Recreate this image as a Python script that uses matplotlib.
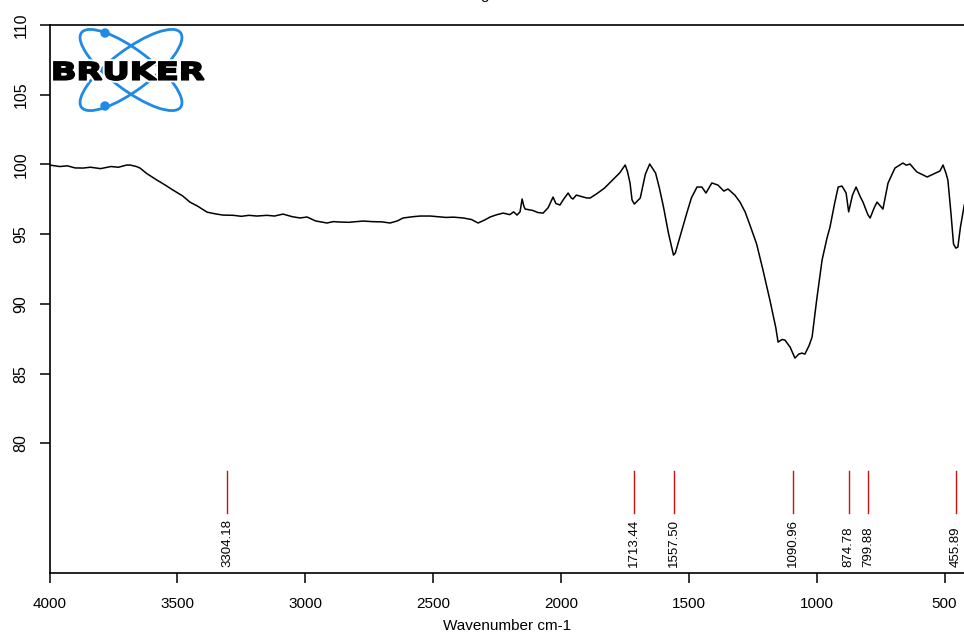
import matplotlib
matplotlib.use("Agg")
import matplotlib.pyplot as plt
from matplotlib.patches import Ellipse, Circle, PathPatch
from matplotlib.textpath import TextPath
from matplotlib.font_manager import FontProperties
from matplotlib.transforms import Affine2D
import matplotlib.patheffects as pe

# IR transmittance spectrum, wavenumber (cm-1) vs %T
wavenumber = [4000, 3960, 3930, 3900, 3869, 3840, 3800, 3760, 3730, 3700, 3685, 3660, 3646,
              3620, 3580, 3550, 3517, 3480, 3451, 3420, 3384, 3350, 3322, 3280, 3250, 3220,
              3189, 3150, 3120, 3087, 3050, 3020, 2993, 2960, 2930, 2915, 2890, 2864, 2830,
              2800, 2774, 2740, 2700, 2668, 2640, 2617, 2580, 2550, 2511, 2480, 2450, 2420,
              2382, 2350, 2324, 2300, 2277, 2250, 2226, 2200, 2185, 2172, 2160, 2152, 2145,
              2140, 2110, 2090, 2070, 2050, 2040, 2031, 2020, 2004, 1990, 1972, 1960, 1953,
              1940, 1920, 1900, 1886, 1860, 1830, 1800, 1770, 1749, 1740, 1730, 1722, 1713,
              1690, 1670, 1653, 1630, 1615, 1599, 1580, 1560, 1553, 1530, 1508, 1490, 1468,
              1449, 1433, 1410, 1386, 1363, 1347, 1320, 1300, 1280, 1262, 1235, 1211, 1183,
              1160, 1151, 1135, 1124, 1104, 1085, 1070, 1058, 1046, 1030, 1018, 1000, 979,
              960, 948, 930, 916, 901, 885, 875, 860, 846, 830, 819, 800, 791, 775, 764, 750,
              741, 721, 705, 694, 680, 663, 650, 635, 620, 608, 590, 568, 545, 518, 506, 495,
              487, 475, 465, 456, 448, 438, 423]
transmittance = [99.96, 99.85, 99.90, 99.75, 99.74, 99.80, 99.70, 99.85, 99.80, 99.95, 99.96,
                 99.85, 99.74, 99.35, 98.88, 98.55, 98.16, 97.75, 97.30, 97.00, 96.58, 96.45,
                 96.37, 96.35, 96.28, 96.35, 96.30, 96.35, 96.30, 96.44, 96.25, 96.16, 96.23,
                 95.95, 95.85, 95.80, 95.90, 95.87, 95.85, 95.90, 95.94, 95.90, 95.88, 95.80,
                 95.95, 96.16, 96.25, 96.30, 96.30, 96.25, 96.20, 96.22, 96.16, 96.05, 95.80,
                 96.00, 96.23, 96.40, 96.51, 96.40, 96.60, 96.37, 96.60, 97.52, 97.00, 96.80,
                 96.70, 96.55, 96.51, 96.90, 97.30, 97.66, 97.20, 97.09, 97.50, 97.95, 97.60,
                 97.52, 97.80, 97.70, 97.60, 97.59, 97.90, 98.30, 98.85, 99.40, 99.96, 99.50,
                 98.67, 97.45, 97.16, 97.59, 99.30, 100.03, 99.38, 98.30, 96.94, 95.10, 93.50,
                 93.64, 95.10, 96.51, 97.60, 98.38, 98.38, 97.95, 98.67, 98.52, 98.09, 98.24,
                 97.80, 97.30, 96.60, 95.70, 94.30, 92.50, 90.27, 88.30, 87.26, 87.45, 87.40,
                 86.90, 86.11, 86.40, 86.47, 86.40, 87.00, 87.62, 90.30, 93.14, 94.70, 95.51,
                 97.20, 98.38, 98.45, 97.95, 96.60, 97.80, 98.38, 97.70, 97.30, 96.40, 96.16,
                 96.90, 97.30, 97.00, 96.80, 98.67, 99.30, 99.74, 99.90, 100.10, 99.95, 100.03,
                 99.70, 99.46, 99.30, 99.10, 99.30, 99.53, 99.96, 99.40, 98.88, 96.50, 94.30,
                 94.00, 94.07, 95.50, 97.09]

peaks = [3304.18, 1713.44, 1557.50, 1090.96, 874.78, 799.88, 455.89]
xticks = [4000, 3500, 3000, 2500, 2000, 1500, 1000, 500]
yticks = [80, 85, 90, 95, 100, 105, 110]

plain = ["Liberation Sans", "DejaVu Sans"]

fig = plt.figure(figsize=(9.64, 6.4), dpi=100)
ax = fig.add_axes([49.5 / 964, 1 - 573 / 640, 1 - 49.5 / 964, (573 - 25) / 640])

ax.plot(wavenumber, transmittance, color="black", lw=1.1)

# peak markers
for p in peaks:
    ax.plot([p, p], [75.0, 78.0], color="#cc1111", lw=1)
    ax.text(p, 71.15, "%.2f" % p, rotation=90, ha="center", va="bottom",
            fontsize=9.5, family=plain)

ax.set_xlim(4000, 424)
ax.set_ylim(70.7, 110)
ax.spines["right"].set_visible(False)
for s in ["top", "left", "bottom"]:
    ax.spines[s].set_linewidth(1.2)

ax.set_xticks(xticks)
ax.set_xticklabels([str(v) for v in xticks], family=plain, fontsize=11)
ax.set_yticks(yticks)
ax.set_yticklabels([str(v) for v in yticks], family=plain, fontsize=11.5,
                   rotation=90, va="center")
ax.tick_params(direction="out", length=7, width=1.1)
ax.tick_params(axis="x", pad=10)
ax.tick_params(axis="y", pad=8)
ax.set_xlabel("Wavenumber cm-1", family=plain, fontsize=11, labelpad=6)

# clipped title remnant
fig.text(485 / 964, 1 + 0.5 / 640, "g", ha="center", va="baseline",
         fontsize=11, family=plain)

# logo, drawn in pixel coordinates
lg = fig.add_axes([0, 0, 1, 1])
lg.set_xlim(0, 964)
lg.set_ylim(640, 0)
lg.axis("off")
blue = "#1e8ae6"
for ang in (37, -37):
    lg.add_patch(Ellipse((131, 70), 124, 40, angle=ang, fill=False,
                         ec=blue, lw=2.0))
lg.add_patch(Circle((105, 33), 4, color=blue))
lg.add_patch(Circle((105, 106), 4, color=blue))

tp = TextPath((0, 0), "BRUKER", size=1,
              prop=FontProperties(family="DejaVu Sans", weight="bold"))
ext = tp.get_extents()
tr = (Affine2D().translate(-ext.x0, -ext.y0)
      .scale(150 / ext.width, -18 / ext.height).translate(54, 80))
lg.add_patch(PathPatch(tr.transform_path(tp), fc="black", ec="black", lw=1.3,
                       path_effects=[pe.Stroke(linewidth=4, foreground="white"),
                                     pe.Normal()]))

fig.savefig("out.png", dpi=100)
